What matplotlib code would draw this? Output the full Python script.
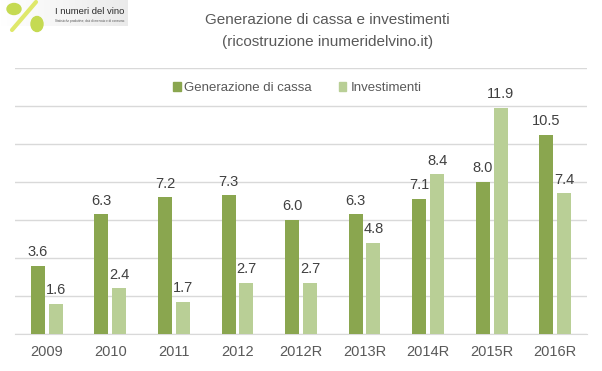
import matplotlib
matplotlib.use("Agg")
import matplotlib.pyplot as plt
import matplotlib.patches as mpatches
import numpy as np

categories = ["2009", "2010", "2011", "2012", "2012R", "2013R", "2014R", "2015R", "2016R"]
cassa = [3.6, 6.3, 7.2, 7.3, 6.0, 6.3, 7.1, 8.0, 10.5]
investimenti = [1.6, 2.4, 1.7, 2.7, 2.7, 4.8, 8.4, 11.9, 7.4]
series_names = ["Generazione di cassa", "Investimenti"]

dark = "#8aa64f"
light = "#b9cf96"
txt = "#595959"
plt.rcParams['font.family'] = ['Liberation Sans', 'DejaVu Sans']

fig = plt.figure(figsize=(6.02, 3.71), dpi=100)
ax = fig.add_axes([15/602, (371-334)/371, (587-15)/602, (334-68)/371])

x = np.arange(len(categories))
w = 0.22
off = 0.14
ax.bar(x - off, cassa, w, color=dark, zorder=3)
ax.bar(x + off, investimenti, w, color=light, zorder=3)

for xi, v in zip(x - off, cassa):
    ax.text(xi, v + 0.35, f"{v:.1f}", ha="center", va="bottom", fontsize=10.5, color="#404040")
for xi, v in zip(x + off, investimenti):
    ax.text(xi, v + 0.35, f"{v:.1f}", ha="center", va="bottom", fontsize=10.5, color="#404040")

ax.set_xlim(-0.5, len(categories) - 0.5)
ax.set_ylim(0, 14)
ax.set_yticks(np.arange(0, 15, 2))
ax.yaxis.grid(True, color="#d9d9d9", linewidth=1, zorder=0)
ax.set_yticklabels([])
ax.tick_params(axis="y", length=0)
ax.set_xticks(x)
ax.set_xticklabels(categories, fontsize=10.5, color=txt)
ax.tick_params(axis="x", length=0, pad=8)
for s in ["top", "right", "left"]:
    ax.spines[s].set_visible(False)
ax.spines["bottom"].set_color("#d9d9d9")
ax.set_facecolor("none")

handles = [mpatches.Patch(color=dark), mpatches.Patch(color=light)]
fig.legend(handles, series_names, loc="center", bbox_to_anchor=(297/602, 1 - 88/371),
           ncol=2, frameon=False, fontsize=9.5, labelcolor=txt,
           handlelength=0.6, handleheight=0.6, handletextpad=0.3, columnspacing=2.0)

fig.text(327/602, 1 - 20/371, "Generazione di cassa e investimenti", ha="center", va="center",
         fontsize=11, color=txt)
fig.text(328/602, 1 - 42/371, "(ricostruzione inumeridelvino.it)", ha="center", va="center",
         fontsize=11, color=txt)

# logo approximation
logo = fig.add_axes([0, 1 - 34/371, 128/602, 34/371])
logo.set_xlim(0, 128)
logo.set_ylim(34, 0)
logo.axis("off")
grad = np.linspace(1.0, 0.92, 100).reshape(1, -1)
logo.imshow(np.dstack([grad, grad, grad]), extent=[0, 128, 26, 0], aspect="auto")
logo.plot([12, 36], [30, 2], color="#dfe86a", linewidth=3, solid_capstyle="round")
logo.add_patch(mpatches.Ellipse((14, 9), 14, 11, color="#c5da52"))
logo.add_patch(mpatches.Ellipse((37, 24), 12, 15, color="#c5da52"))
logo.text(55, 12, "I numeri del vino", fontsize=6.8, color="#2a2a2a", va="center")
logo.text(55, 21, "Statistiche produttive, dati di mercato e di consumo.", fontsize=2.2, color="#555555", va="center")

fig.savefig("out.png", dpi=100)
